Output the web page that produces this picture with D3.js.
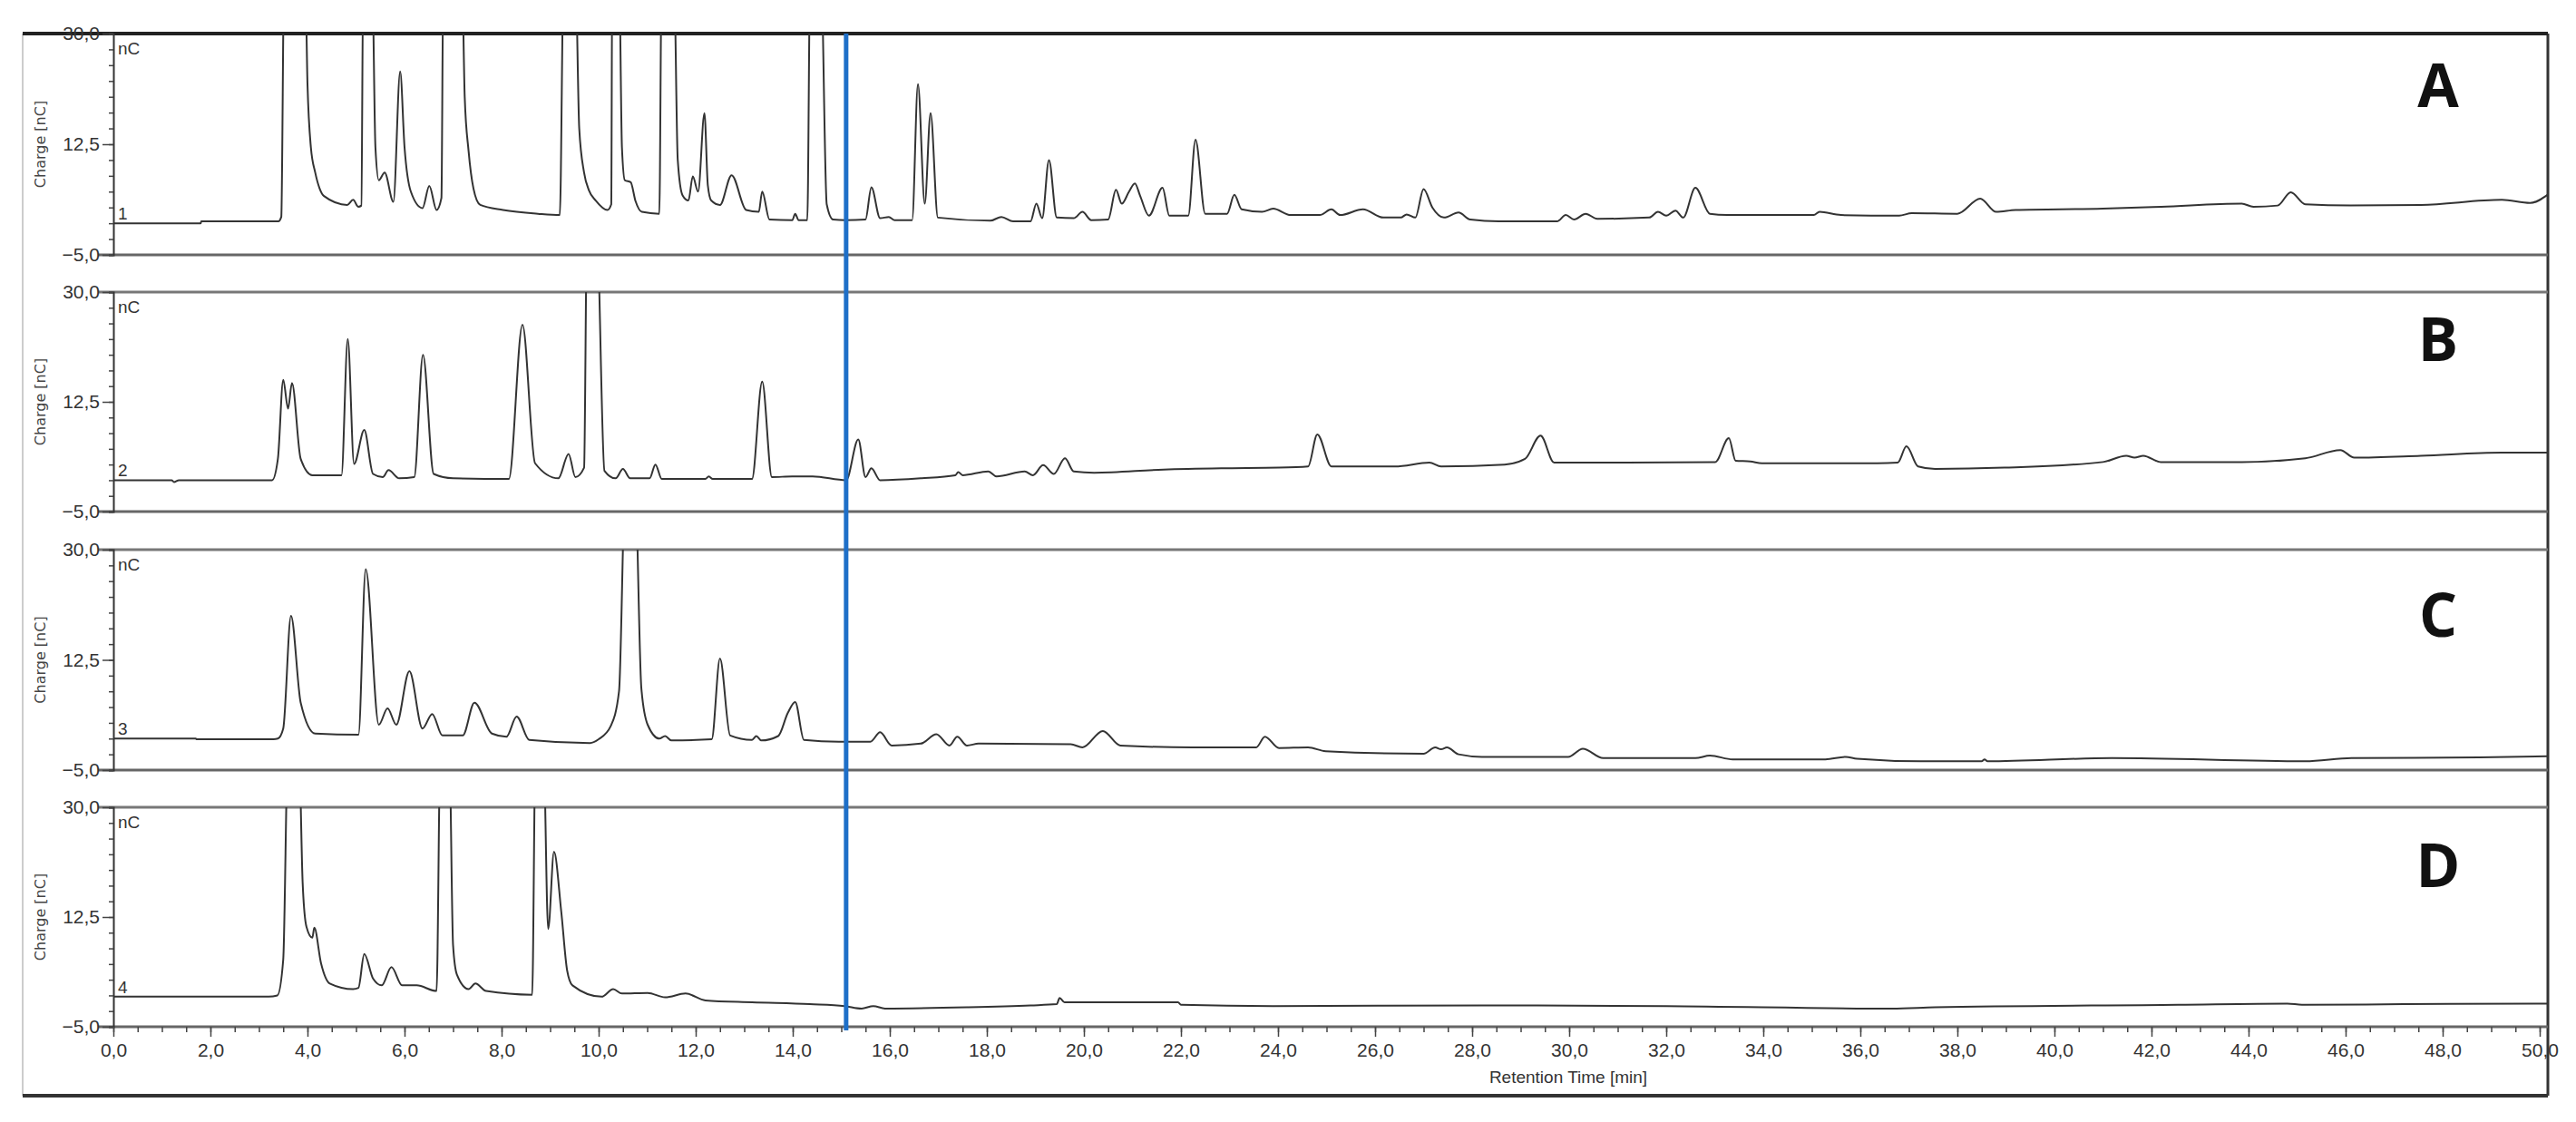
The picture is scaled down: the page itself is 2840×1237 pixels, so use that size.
<!DOCTYPE html>
<html><head><meta charset="utf-8">
<script src="https://cdn.jsdelivr.net/npm/d3@7"></script>
<style>body{margin:0;background:#fff}svg{display:block}</style>
</head><body>
<svg id="c" width="2840" height="1237"></svg>
<script>
const panelLabels = ["A","B","C","D"];
const traceNumbers = ["1","2","3","4"];
const yTickLabels = [30, 12.5, -5];
const xTickValues = d3.range(0, 51, 2);
const markerTime = 15.1;

const traceA = [[0,0],[1.8,0],[1.81,0.3],[3.4,0.3],[3.46,1],[3.52,40],[3.95,40],[4.0,22],[4.07,12],[4.16,8],[4.25,5.5],[4.34,4.3],[4.82,2.9],[4.94,3.7],[5.05,2.6],[5.11,2.8],[5.15,40],[5.33,40],[5.4,12],[5.47,6.8],[5.59,8],[5.77,3.4],[5.91,24],[6.0,12],[6.13,5],[6.37,2.4],[6.51,5.9],[6.66,2.1],[6.76,4],[6.8,40],[7.18,40],[7.24,20],[7.32,11.4],[7.42,5.5],[7.56,2.9],[8.03,2.1],[8.75,1.5],[9.2,1.3],[9.28,40],[9.52,40],[9.6,15],[9.7,8],[9.8,5.2],[9.94,3.6],[10.18,2.1],[10.26,3],[10.28,40],[10.42,40],[10.48,12],[10.54,6.8],[10.66,6.5],[10.76,3.5],[10.89,1.8],[11.25,1.5],[11.3,40],[11.55,40],[11.63,10],[11.73,4.4],[11.85,3.6],[11.94,7.4],[12.05,5],[12.18,17.4],[12.25,6],[12.32,3.6],[12.5,2.9],[12.74,7.6],[13.04,2.1],[13.3,1.8],[13.37,5],[13.52,0.6],[13.99,0.5],[14.05,1.5],[14.12,0.5],[14.3,0.5],[14.36,40],[14.58,40],[14.7,3],[14.83,0.6],[15.09,0.5],[15.5,0.6],[15.62,5.7],[15.8,0.8],[15.98,1.0],[16.1,0.5],[16.46,0.5],[16.58,22],[16.72,3.1],[16.84,17.4],[16.99,0.9],[18.07,0.4],[18.3,1.0],[18.54,0.3],[18.9,0.3],[19.02,3.1],[19.14,0.8],[19.28,10],[19.44,0.9],[19.79,0.8],[19.97,1.8],[20.15,0.5],[20.5,0.6],[20.66,5.3],[20.78,3.1],[20.93,5],[21.05,6.3],[21.16,4.3],[21.34,1.2],[21.62,5.6],[21.76,1.2],[22.15,1.2],[22.3,13.2],[22.5,1.5],[22.95,1.5],[23.1,4.5],[23.25,2.2],[23.67,1.8],[23.9,2.3],[24.26,1.3],[24.86,1.3],[25.1,2.2],[25.28,1.3],[25.75,2.2],[26.17,0.9],[26.53,0.9],[26.65,1.4],[26.83,0.9],[27.0,5.4],[27.18,2.5],[27.42,0.9],[27.72,1.7],[27.96,0.6],[28.55,0.3],[29.75,0.3],[29.93,1.3],[30.1,0.6],[30.34,1.5],[30.58,0.7],[31.65,0.9],[31.83,1.8],[32.0,1.2],[32.19,2.0],[32.35,0.9],[32.6,5.6],[32.9,1.5],[33.25,1.3],[35.04,1.3],[35.16,1.8],[35.6,1.3],[36.8,1.2],[37.06,1.6],[38.0,1.5],[38.47,3.9],[38.8,1.8],[39.2,2.1],[41.0,2.3],[42.2,2.6],[43.86,3.1],[44.1,2.6],[44.6,2.8],[44.87,4.9],[45.17,3.0],[46.1,2.8],[47.55,2.9],[49.22,3.7],[49.8,3.2],[50.18,4.6]];

const traceB = [[0,0],[1.2,0],[1.25,-0.3],[1.35,0],[3.27,0],[3.39,3.4],[3.5,16],[3.6,11.4],[3.68,15.5],[3.86,3.4],[4.1,0.8],[4.7,0.8],[4.83,22.5],[4.96,2.6],[5.17,8],[5.35,1.0],[5.55,0.5],[5.67,1.6],[5.89,0.3],[6.2,0.5],[6.38,20],[6.6,1.0],[7.0,0.3],[8.15,0.2],[8.43,24.8],[8.69,2.7],[9.17,0.3],[9.38,4.2],[9.52,0.5],[9.7,2],[9.76,40],[9.96,40],[10.12,1.5],[10.35,0.3],[10.5,1.8],[10.65,0.3],[11.05,0.3],[11.17,2.5],[11.3,0.2],[12.2,0.2],[12.27,0.6],[12.35,0.2],[13.16,0.2],[13.37,15.7],[13.57,0.5],[13.99,0.6],[14.41,0.6],[15.1,0],[15.35,6.5],[15.5,0.5],[15.62,1.9],[15.8,0],[16.64,0.3],[17.35,0.8],[17.41,1.3],[17.5,0.8],[18.03,1.4],[18.2,0.6],[18.78,1.4],[18.95,0.8],[19.16,2.4],[19.38,1.0],[19.61,3.5],[19.79,1.4],[20.21,1.2],[21.64,1.7],[22.83,1.9],[24.02,2.0],[24.62,2.2],[24.81,7.3],[25.1,2.2],[26.41,2.2],[27.12,2.8],[27.36,2.2],[28.67,2.5],[29.09,3.4],[29.41,7.1],[29.69,2.8],[31.2,2.8],[33.01,2.9],[33.29,6.7],[33.43,3.1],[33.73,3.0],[33.97,2.7],[36.35,2.7],[36.77,2.8],[36.95,5.4],[37.19,2.2],[37.54,1.8],[38.97,2.0],[41.0,2.9],[41.48,3.9],[41.65,3.6],[41.83,3.9],[42.19,2.9],[43.86,2.9],[45.17,3.5],[45.89,4.8],[46.18,3.6],[47.55,3.9],[49.22,4.4],[50.18,4.4]];

const traceC = [[0,0],[1.7,0],[1.71,-0.1],[3.3,-0.1],[3.39,0],[3.5,1.6],[3.66,19.5],[3.86,5.7],[4.16,0.8],[5.05,0.6],[5.2,26.9],[5.47,2.2],[5.65,4.8],[5.83,2.2],[6.1,10.7],[6.37,1.6],[6.57,3.9],[6.78,0.5],[7.2,0.5],[7.44,5.7],[7.8,0.8],[8.1,0.3],[8.31,3.5],[8.57,-0.2],[9.82,-0.7],[10.0,-0.1],[10.25,2],[10.42,7.5],[10.55,40],[10.75,40],[10.88,8],[11.01,2.2],[11.25,0],[11.37,0.4],[11.5,-0.3],[12.33,-0.1],[12.5,12.7],[12.71,0.5],[13.16,-0.2],[13.25,0.4],[13.35,-0.3],[13.7,0.4],[13.9,4.1],[14.05,5.8],[14.23,-0.2],[14.95,-0.5],[15.6,-0.5],[15.8,1.0],[16.04,-1.1],[16.64,-0.8],[16.96,0.7],[17.23,-1.1],[17.39,0.3],[17.59,-1.1],[17.83,-0.8],[19.73,-0.9],[19.97,-1.4],[20.39,1.2],[20.75,-1.1],[22.24,-1.4],[23.55,-1.4],[23.73,0.3],[24.02,-1.5],[24.62,-1.4],[24.98,-2.0],[27.0,-2.4],[27.24,-1.4],[27.36,-1.7],[27.48,-1.4],[27.72,-2.5],[28.2,-2.9],[29.98,-2.9],[30.28,-1.6],[30.7,-3.1],[32.6,-3.1],[32.9,-2.7],[33.37,-3.3],[35.28,-3.3],[35.7,-2.9],[35.93,-3.2],[37.24,-3.6],[38.5,-3.6],[38.56,-3.3],[38.62,-3.6],[41.18,-3.1],[45.17,-3.6],[46.12,-3.1],[48.75,-3.0],[50.18,-2.8]];

const traceD = [[0,-0.2],[3.2,-0.2],[3.38,0],[3.5,5.7],[3.6,40],[3.82,40],[3.9,18],[3.98,10.9],[4.1,9.2],[4.14,10.8],[4.28,5.1],[4.46,1.9],[4.94,1.0],[5.05,1.2],[5.17,6.6],[5.35,2.7],[5.53,1.6],[5.73,4.5],[5.95,1.6],[6.25,1.6],[6.66,0.7],[6.74,40],[6.92,40],[7.0,8],[7.08,3.3],[7.32,1.0],[7.46,1.9],[7.68,0.7],[8.63,0.1],[8.7,40],[8.86,40],[8.96,10.6],[9.08,22.9],[9.23,13.3],[9.35,4],[9.46,1.6],[10.06,-0.2],[10.3,1.0],[10.48,0.3],[11.01,0.4],[11.37,-0.3],[11.79,0.3],[12.2,-0.8],[13.16,-1.1],[14.35,-1.4],[15.07,-1.7],[15.42,-2.1],[15.66,-1.7],[15.9,-2.1],[17.59,-1.9],[18.9,-1.6],[19.44,-1.4],[19.5,-0.4],[19.6,-1.1],[21.94,-1.1],[22.0,-1.5],[23.9,-1.7],[28.2,-1.6],[32.0,-1.7],[36.65,-2.1],[37.54,-1.9],[42.55,-1.5],[44.8,-1.3],[45.1,-1.5],[47.2,-1.4],[50.18,-1.3]];

const traces = [traceA, traceB, traceC, traceD];

const svg = d3.select("#c");
const L = 125, R = 2809;
const x = d3.scaleLinear().domain([0, 50]).range([L, 2800]);
const tops = [37, 322, 606, 890], bottoms = [281, 564, 849, 1132];
const tickFont = "'Liberation Sans Narrow','Arial Narrow',sans-serif";

svg.append("line").attr("x1",25).attr("x2",25).attr("y1",37).attr("y2",1208).attr("stroke","#ccc").attr("stroke-width",2);
svg.append("line").attr("x1",R).attr("x2",R).attr("y1",37).attr("y2",1208).attr("stroke","#333").attr("stroke-width",3);
svg.append("line").attr("x1",25).attr("x2",R).attr("y1",1208).attr("y2",1208).attr("stroke","#333").attr("stroke-width",4);

traces.forEach((data, i) => {
  const y = d3.scaleLinear().domain([-5, 30]).range([bottoms[i], tops[i]]);
  const g = svg.append("g");
  g.append("clipPath").attr("id","clip"+i).append("rect")
    .attr("x", L).attr("y", tops[i]).attr("width", R - L).attr("height", bottoms[i]-tops[i]);
  g.append("line").attr("x1", i===0 ? 25 : 108).attr("x2", R).attr("y1", tops[i]).attr("y2", tops[i])
    .attr("stroke", i===0 ? "#222" : "#777").attr("stroke-width", i===0 ? 4 : 3);
  g.append("line").attr("x1", 108).attr("x2", R).attr("y1", bottoms[i]).attr("y2", bottoms[i])
    .attr("stroke", "#666").attr("stroke-width", 3);
  const ax = d3.axisLeft(y).tickValues(d3.range(-5, 30.01, 2.5)).tickSize(5).tickFormat("");
  const ag = g.append("g").attr("transform", `translate(${L},0)`).call(ax);
  ag.select(".domain").attr("stroke","#333").attr("stroke-width",2);
  ag.selectAll(".tick line").attr("stroke","#444").attr("stroke-width",1.5);
  const lg = g.append("g").attr("transform", `translate(${L},0)`)
    .call(d3.axisLeft(y).tickValues(yTickLabels).tickSize(12).tickFormat(d => d3.format(".1f")(d).replace(".", ",")));
  lg.select(".domain").remove();
  lg.selectAll(".tick line").attr("stroke","#444").attr("stroke-width",1.5);
  lg.selectAll(".tick text").attr("font-family", tickFont).attr("font-size", 21).attr("fill","#333");
  g.append("text").attr("transform", `translate(50,${(tops[i]+bottoms[i])/2}) rotate(-90)`)
    .attr("text-anchor","middle").attr("font-family","'DejaVu Sans',sans-serif").attr("font-size",16)
    .attr("fill","#444").text("Charge [nC]");
  g.append("text").attr("x", 130).attr("y", tops[i]+23).attr("font-family", tickFont).attr("font-size",19)
    .attr("fill","#333").text("nC");
  g.append("text").attr("x", 130).attr("y", y(data[0][1]) - 4).attr("font-family", tickFont).attr("font-size",19)
    .attr("fill","#333").text(traceNumbers[i]);
  const line = d3.line().x(d => x(d[0])).y(d => y(d[1])).curve(d3.curveMonotoneX);
  g.append("path").datum(data).attr("clip-path", `url(#clip${i})`).attr("d", line)
    .attr("fill","none").attr("stroke","#333").attr("stroke-width",2).attr("stroke-linejoin","round");
  g.append("text").attr("x", 2688).attr("y", [118, 398, 702, 978][i]).attr("text-anchor","middle")
    .attr("font-family","'Liberation Sans Narrow','Open Sans',sans-serif").attr("font-weight",700).attr("font-size",66)
    .attr("fill","#111").text(panelLabels[i]);
});

const xa = svg.append("g").attr("transform", `translate(0,${bottoms[3]})`)
  .call(d3.axisBottom(x).tickValues(d3.range(0, 50.01, 0.5)).tickSize(6).tickFormat(""));
xa.select(".domain").remove();
xa.selectAll(".tick line").attr("stroke","#444").attr("stroke-width",1.5);
const xl = svg.append("g").attr("transform", `translate(0,${bottoms[3]})`)
  .call(d3.axisBottom(x).tickValues(xTickValues).tickSize(11).tickFormat(d => d3.format(".1f")(d).replace(".", ",")));
xl.select(".domain").remove();
xl.selectAll(".tick line").attr("stroke","#444").attr("stroke-width",1.5);
xl.selectAll(".tick text").attr("font-family", tickFont).attr("font-size", 21).attr("fill","#333").attr("dy","0.9em");
svg.append("text").attr("x", 1729).attr("y", 1194).attr("text-anchor","middle")
  .attr("font-family", tickFont).attr("font-size", 19).attr("fill","#333").text("Retention Time [min]");

svg.append("line").attr("x1", x(markerTime)).attr("x2", x(markerTime)).attr("y1", tops[0]).attr("y2", bottoms[3] + 4)
  .attr("stroke","#1e6fc8").attr("stroke-width",5);
</script>
</body></html>
